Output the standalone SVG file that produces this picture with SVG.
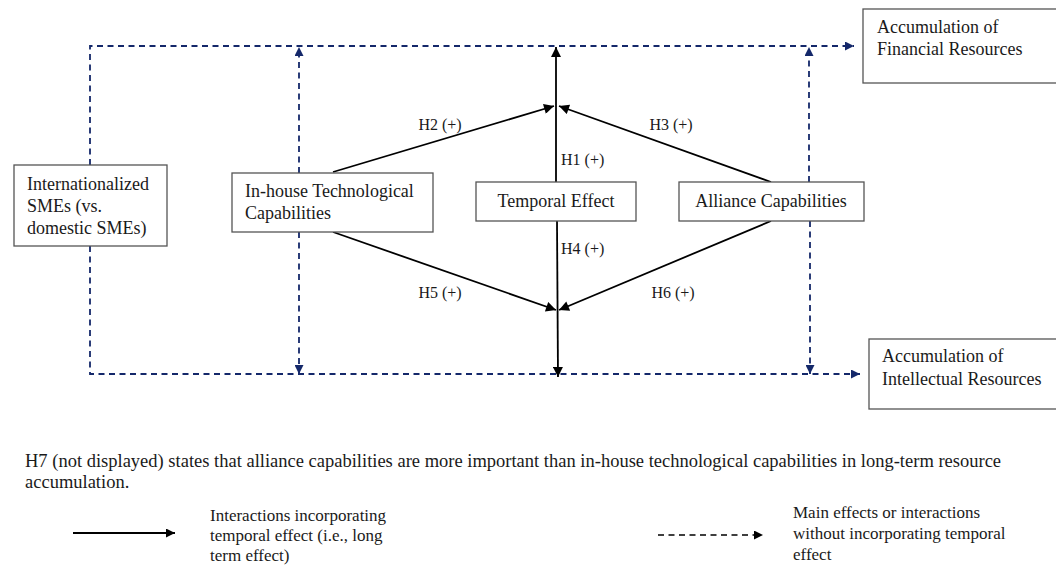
<svg xmlns="http://www.w3.org/2000/svg" width="1056" height="566" viewBox="0 0 1056 566">
<defs>
<marker id="ab" viewBox="0 0 10 10" refX="10" refY="5" markerWidth="11" markerHeight="10" markerUnits="userSpaceOnUse" orient="auto"><path d="M0,0 L10,5 L0,10 z" fill="#000"/></marker>
<marker id="an" viewBox="0 0 10 10" refX="10" refY="5" markerWidth="9" markerHeight="9" markerUnits="userSpaceOnUse" orient="auto"><path d="M0,0 L10,5 L0,10 z" fill="#14286a"/></marker>
<marker id="ak" viewBox="0 0 10 10" refX="10" refY="5" markerWidth="9" markerHeight="9" markerUnits="userSpaceOnUse" orient="auto"><path d="M0,0 L10,5 L0,10 z" fill="#000"/></marker>
</defs>
<style>
text{font-family:"Liberation Serif","Times New Roman",serif;fill:#1a1a1a}
.box{fill:#fff;stroke:#555;stroke-width:1.3}
.bt{font-size:18px}
.lb{font-size:16px}
.ft{font-size:17px}
.fn{font-size:18.5px}
.sol{fill:none;stroke:#000;stroke-width:1.8}
.das{fill:none;stroke:#14286a;stroke-width:1.8;stroke-dasharray:6 4.5}
</style>
<rect width="1056" height="566" fill="#fff"/>
<g id="connectors">
<path class="das" d="M90,165 V46 H854" marker-end="url(#an)"/>
<path class="das" d="M90,246 V374 H860" marker-end="url(#an)"/>
<path class="das" d="M299,173 V47" marker-end="url(#an)"/>
<path class="das" d="M299,232 V374" marker-end="url(#an)"/>
<path class="das" d="M809,182 V47" marker-end="url(#an)"/>
<path class="das" d="M810,221 V374" marker-end="url(#an)"/>
<path class="sol" d="M556,182 V47" marker-end="url(#ab)"/>
<path class="sol" d="M557,221 L558,377" marker-end="url(#ab)"/>
<path class="sol" d="M333,172 L554,106" marker-end="url(#ab)"/>
<path class="sol" d="M771,182 L559,106" marker-end="url(#ab)"/>
<path class="sol" d="M333,232 L556,310" marker-end="url(#ab)"/>
<path class="sol" d="M771,221 L559,310" marker-end="url(#ab)"/>
</g>
<g id="labels">
<text class="lb" x="440" y="130" text-anchor="middle">H2 (+)</text>
<text class="lb" x="671" y="130" text-anchor="middle">H3 (+)</text>
<text class="lb" x="561" y="165">H1 (+)</text>
<text class="lb" x="561" y="254">H4 (+)</text>
<text class="lb" x="440" y="298" text-anchor="middle">H5 (+)</text>
<text class="lb" x="673" y="298" text-anchor="middle">H6 (+)</text>
</g>
<g id="n-sme">
<rect class="box" x="14" y="165" width="153" height="81"/>
<text class="bt" x="27" y="190">Internationalized</text>
<text class="bt" x="27" y="212">SMEs (vs.</text>
<text class="bt" x="27" y="234">domestic SMEs)</text>
</g>
<g id="n-inhouse">
<rect class="box" x="232" y="173" width="201" height="59"/>
<text class="bt" x="245" y="197">In-house Technological</text>
<text class="bt" x="245" y="219">Capabilities</text>
</g>
<g id="n-temporal">
<rect class="box" x="476" y="182" width="160" height="39"/>
<text class="bt" x="556" y="207" text-anchor="middle">Temporal Effect</text>
</g>
<g id="n-alliance">
<rect class="box" x="679" y="182" width="185" height="39"/>
<text class="bt" x="771" y="207" text-anchor="middle">Alliance Capabilities</text>
</g>
<g id="n-financial">
<rect class="box" x="863" y="9" width="200" height="74"/>
<text class="bt" x="877" y="33">Accumulation of</text>
<text class="bt" x="877" y="55">Financial Resources</text>
</g>
<g id="n-intellectual">
<rect class="box" x="869" y="339" width="200" height="70"/>
<text class="bt" x="882" y="362">Accumulation of</text>
<text class="bt" x="882" y="385">Intellectual Resources</text>
</g>
<g id="footnote">
<text class="fn" x="25" y="467">H7 (not displayed) states that alliance capabilities are more important than in-house technological capabilities in long-term resource</text>
<text class="fn" x="25" y="488">accumulation.</text>
</g>
<g id="legend">
<path class="sol" d="M73,533 H175" marker-end="url(#ak)"/>
<text class="ft" x="210" y="521">Interactions incorporating</text>
<text class="ft" x="210" y="541">temporal effect (i.e., long</text>
<text class="ft" x="210" y="561">term effect)</text>
<path d="M658,535 H763" fill="none" stroke="#000" stroke-width="1.6" stroke-dasharray="6 4.5" marker-end="url(#ak)"/>
<text class="ft" x="793" y="518">Main effects or interactions</text>
<text class="ft" x="793" y="539">without incorporating temporal</text>
<text class="ft" x="793" y="560">effect</text>
</g>
</svg>
